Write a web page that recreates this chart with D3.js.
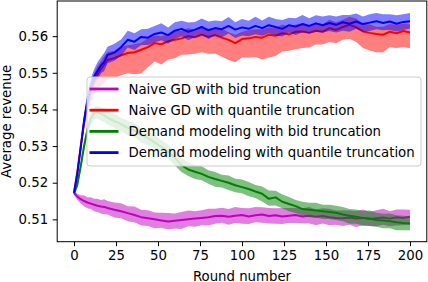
<!DOCTYPE html>
<html lang="en">
<head>
<meta charset="UTF-8">
<title>Average revenue</title>
<script src="https://cdnjs.cloudflare.com/ajax/libs/d3/7.8.5/d3.min.js"></script>
<style>
    body { margin: 0; background: #fff; }
    svg text { font-family: "DejaVu Sans", sans-serif; fill: #000; }
</style>
</head>
<body>
<svg id="chart" width="428" height="282"></svg>
<script>
// rounds
var rounds = [0, 2, 4, 6, 8, 10, 12, 14, 16, 18, 20, 24, 28, 32, 36, 40, 44, 48, 52, 56,
    60, 64, 68, 72, 76, 80, 84, 88, 92, 96, 100, 104, 108, 112, 116, 120, 124, 128, 132, 136,
    140, 144, 148, 152, 156, 160, 164, 168, 172, 176, 180, 184, 188, 192, 196, 200];

var seriesNames = ["Naive GD with bid truncation", "Naive GD with quantile truncation",
    "Demand modeling with bid truncation", "Demand modeling with quantile truncation"];
var seriesColors = ["#bf00bf", "#ff0000", "#008000", "#0000ff"];

// mean revenue
var naiveBid = [0.5172, 0.5162, 0.5155, 0.5150, 0.5146, 0.5143, 0.5140, 0.5137, 0.5135, 0.5134,
    0.5131, 0.5126, 0.5122, 0.5117, 0.5112, 0.5106, 0.5103, 0.5100, 0.5097, 0.5094,
    0.5096, 0.5098, 0.5100, 0.5102, 0.5104, 0.5106, 0.5109, 0.5110, 0.5107, 0.5110,
    0.5112, 0.5108, 0.5111, 0.5113, 0.5109, 0.5111, 0.5108, 0.5110, 0.5112, 0.5108,
    0.5110, 0.5107, 0.5109, 0.5106, 0.5104, 0.5103, 0.5105, 0.5102, 0.5104, 0.5101,
    0.5103, 0.5105, 0.5102, 0.5106, 0.5104, 0.5107];
var naiveQuant = [0.5172, 0.5230, 0.5300, 0.5365, 0.5415, 0.5450, 0.5478, 0.5495, 0.5510, 0.5522,
    0.5535, 0.5540, 0.5548, 0.5554, 0.5556, 0.5563, 0.5570, 0.5581, 0.5578, 0.5586,
    0.5590, 0.5594, 0.5600, 0.5597, 0.5604, 0.5598, 0.5603, 0.5596, 0.5590, 0.5581,
    0.5592, 0.5594, 0.5598, 0.5596, 0.5604, 0.5601, 0.5608, 0.5605, 0.5612, 0.5613,
    0.5609, 0.5615, 0.5612, 0.5622, 0.5617, 0.5625, 0.5631, 0.5624, 0.5613, 0.5609,
    0.5606, 0.5604, 0.5612, 0.5608, 0.5614, 0.5610];
var demandBid = [0.5170, 0.5195, 0.5245, 0.5300, 0.5345, 0.5375, 0.5390, 0.5392, 0.5388, 0.5384,
    0.5378, 0.5368, 0.5360, 0.5350, 0.5342, 0.5330, 0.5322, 0.5310, 0.5298, 0.5285,
    0.5268, 0.5248, 0.5236, 0.5230, 0.5224, 0.5216, 0.5210, 0.5205, 0.5200, 0.5193,
    0.5188, 0.5183, 0.5176, 0.5170, 0.5156, 0.5160, 0.5148, 0.5142, 0.5136, 0.5128,
    0.5126, 0.5124, 0.5122, 0.5120, 0.5118, 0.5113, 0.5110, 0.5107, 0.5104, 0.5102,
    0.5098, 0.5097, 0.5095, 0.5092, 0.5090, 0.5089];
var demandQuant = [0.5172, 0.5225, 0.5295, 0.5370, 0.5425, 0.5462, 0.5490, 0.5505, 0.5520, 0.5530,
    0.5549, 0.5555, 0.5570, 0.5590, 0.5585, 0.5598, 0.5596, 0.5606, 0.5610, 0.5603,
    0.5615, 0.5620, 0.5612, 0.5618, 0.5625, 0.5616, 0.5622, 0.5619, 0.5628, 0.5618,
    0.5624, 0.5620, 0.5628, 0.5622, 0.5630, 0.5625, 0.5620, 0.5630, 0.5626, 0.5633,
    0.5628, 0.5635, 0.5630, 0.5636, 0.5631, 0.5638, 0.5634, 0.5640, 0.5633, 0.5637,
    0.5641, 0.5636, 0.5640, 0.5634, 0.5639, 0.5641];

// band spread below / above the mean, in units of 0.001
var naiveBidDn = [0.5, 0.9, 1.2, 1.4, 1.6, 1.5, 1.8, 1.7, 1.9, 2.0, 1.8, 2.1, 1.9, 2.2, 2.0, 2.3, 2.1, 2.4, 2.0, 2.2,
    2.1, 2.4, 1.9, 2.2, 2.0, 2.3, 2.1, 1.9, 2.2, 2.0, 2.4, 2.1, 1.9, 2.2, 2.0, 2.3, 2.1, 2.0, 2.2, 1.9,
    2.1, 2.3, 2.0, 2.2, 1.9, 2.1, 2.0, 2.3, 2.1, 1.9, 2.2, 2.0, 2.1, 2.3, 2.0, 2.2];
var naiveBidUp = [0.5, 0.8, 1.1, 1.5, 1.4, 1.7, 1.6, 1.9, 1.8, 2.1, 1.9, 2.0, 2.2, 1.9, 2.3, 2.0, 2.2, 1.9, 2.1, 2.3,
    2.0, 2.2, 2.4, 2.0, 2.1, 2.3, 2.0, 2.2, 2.1, 2.4, 1.9, 2.2, 2.3, 2.0, 2.2, 1.9, 2.3, 2.1, 2.0, 2.2,
    2.4, 2.0, 2.1, 2.3, 2.0, 2.2, 1.9, 2.1, 2.3, 2.0, 2.2, 2.4, 2.0, 2.1, 2.3, 1.9];
var naiveQuantDn = [0.5, 1.0, 1.5, 2.0, 2.5, 3.0, 3.5, 4.0, 4.5, 5.0, 5.0, 5.5, 5.5, 5.5, 6.0, 6.5, 5.5, 5.0, 5.5, 5.0,
    5.0, 4.5, 5.0, 4.5, 4.8, 4.6, 5.0, 5.2, 5.5, 5.2, 5.0, 5.2, 5.5, 6.0, 6.2, 5.5, 5.0, 4.5, 4.8, 4.5,
    4.0, 3.8, 3.5, 3.8, 3.6, 3.5, 3.8, 4.0, 4.5, 4.8, 5.0, 4.8, 4.2, 4.0, 4.4, 4.2];
var naiveQuantUp = [0.5, 1.0, 1.4, 1.8, 2.0, 2.2, 2.0, 2.3, 2.1, 2.4, 2.2, 2.0, 2.3, 2.1, 2.2, 2.0, 2.4, 2.1, 2.2, 2.0,
    2.3, 2.1, 2.2, 2.0, 2.3, 2.2, 2.0, 2.4, 2.1, 2.3, 2.0, 2.2, 2.1, 2.3, 2.0, 2.2, 2.4, 2.1, 2.0, 2.3,
    2.1, 2.2, 2.0, 2.3, 2.1, 2.0, 2.2, 2.4, 2.1, 2.3, 2.0, 2.2, 2.1, 2.3, 2.0, 2.2];
var demandBidDn = [0.5, 0.9, 1.2, 1.4, 1.5, 1.6, 1.8, 1.7, 1.9, 1.8, 2.0, 1.8, 1.9, 2.1, 1.8, 2.0, 1.9, 1.7, 2.0, 1.8,
    2.1, 1.9, 1.8, 2.0, 1.7, 1.9, 2.1, 1.8, 2.0, 1.9, 1.7, 2.0, 1.8, 2.1, 1.9, 2.2, 1.8, 2.0, 1.9, 1.7,
    2.0, 1.8, 2.1, 1.9, 2.0, 1.8, 2.2, 1.9, 2.1, 2.0, 1.8, 2.1, 1.9, 2.2, 2.0, 1.9];
var demandBidUp = [0.5, 0.8, 1.1, 1.3, 1.5, 1.7, 1.6, 1.8, 1.7, 1.9, 1.8, 2.0, 1.7, 1.9, 2.0, 1.8, 1.7, 2.0, 1.8, 1.9,
    1.7, 2.0, 1.9, 1.8, 2.1, 1.8, 1.9, 1.7, 2.0, 1.8, 2.1, 1.9, 1.8, 2.0, 2.3, 1.8, 2.0, 1.9, 1.7, 2.0,
    1.9, 2.1, 1.8, 2.0, 1.9, 2.1, 1.8, 2.0, 1.9, 2.2, 2.0, 1.8, 2.1, 1.9, 2.0, 1.8];
var demandQuantDn = [0.5, 1.0, 1.4, 1.7, 2.0, 2.2, 2.1, 2.4, 2.2, 2.5, 2.3, 2.2, 2.4, 2.1, 2.3, 2.2, 2.0, 2.3, 2.1, 2.4,
    2.2, 2.0, 2.3, 2.1, 2.2, 2.4, 2.0, 2.2, 2.1, 2.3, 2.2, 2.0, 2.3, 2.1, 2.2, 2.4, 2.1, 2.0, 2.3, 2.2,
    2.1, 2.3, 2.0, 2.2, 2.1, 2.3, 2.2, 2.0, 2.1, 2.3, 2.2, 2.0, 2.3, 2.1, 2.2, 2.0];
var demandQuantUp = [0.5, 1.0, 1.5, 1.8, 2.1, 2.3, 2.0, 2.4, 2.2, 2.5, 2.2, 2.4, 2.1, 2.5, 2.3, 2.1, 2.4, 2.2, 2.5, 2.1,
    2.3, 2.2, 2.5, 2.1, 2.3, 2.4, 2.1, 2.2, 2.4, 2.0, 2.3, 2.2, 2.5, 2.1, 2.3, 2.2, 2.4, 2.0, 2.3, 2.5,
    2.1, 2.2, 2.4, 2.1, 2.3, 2.0, 2.4, 2.2, 2.1, 2.3, 2.2, 2.4, 2.0, 2.3, 2.1, 2.2];

var xTicks = [0, 25, 50, 75, 100, 125, 150, 175, 200];
var yTicks = [0.51, 0.52, 0.53, 0.54, 0.55, 0.56];
var xLimits = [-10, 210];
var yLimits = [0.5039, 0.5696];

var FONT = "13.3px";
var svg = d3.select("#chart");
var margin = {top: 1, right: 1.2, bottom: 40.3, left: 57.2};
var W = +svg.attr("width");
var H = +svg.attr("height");

var x = d3.scaleLinear().domain(xLimits).range([margin.left, W - margin.right]);
var y = d3.scaleLinear().domain(yLimits).range([H - margin.bottom, margin.top]);

var series = [
    {mean: naiveBid, dn: naiveBidDn, up: naiveBidUp},
    {mean: naiveQuant, dn: naiveQuantDn, up: naiveQuantUp},
    {mean: demandBid, dn: demandBidDn, up: demandBidUp},
    {mean: demandQuant, dn: demandQuantDn, up: demandQuantUp}
];

var plot = svg.append("g");
plot.append("clipPath").attr("id", "clip")
    .append("rect")
    .attr("x", x(xLimits[0])).attr("y", y(yLimits[1]))
    .attr("width", x(xLimits[1]) - x(xLimits[0]))
    .attr("height", y(yLimits[0]) - y(yLimits[1]));

var area = d3.area()
    .x(function (d) { return x(d.r); })
    .y0(function (d) { return y(d.lo); })
    .y1(function (d) { return y(d.hi); });
var line = d3.line()
    .x(function (d) { return x(d.r); })
    .y(function (d) { return y(d.m); });

series.forEach(function (s, k) {
    var pts = rounds.map(function (r, i) {
        return {r: r, m: s.mean[i], lo: s.mean[i] - s.dn[i] / 1000, hi: s.mean[i] + s.up[i] / 1000};
    });
    var g = plot.append("g").attr("clip-path", "url(#clip)");
    g.append("path").datum(pts)
        .attr("d", area)
        .attr("fill", seriesColors[k])
        .attr("fill-opacity", 0.5);
    g.append("path").datum(pts)
        .attr("d", line)
        .attr("fill", "none")
        .attr("stroke", seriesColors[k])
        .attr("stroke-width", 2)
        .attr("stroke-linejoin", "round");
});

// axes
var xAxis = svg.append("g")
    .attr("transform", "translate(0," + y(yLimits[0]) + ")")
    .call(d3.axisBottom(x).tickValues(xTicks).tickSize(4.5).tickPadding(4.5));
var yAxis = svg.append("g")
    .attr("transform", "translate(" + x(xLimits[0]) + ",0)")
    .call(d3.axisLeft(y).tickValues(yTicks).tickFormat(d3.format(".2f")).tickSize(4.5).tickPadding(4.5));
[xAxis, yAxis].forEach(function (a) {
    a.select(".domain").remove();
    a.selectAll("line").attr("stroke", "#000").attr("stroke-width", 1);
    a.selectAll("text").attr("font-size", FONT).attr("font-family", "DejaVu Sans");
});

svg.append("rect")
    .attr("x", x(xLimits[0])).attr("y", y(yLimits[1]))
    .attr("width", x(xLimits[1]) - x(xLimits[0]))
    .attr("height", y(yLimits[0]) - y(yLimits[1]))
    .attr("fill", "none").attr("stroke", "#000").attr("stroke-width", 1);

svg.append("text")
    .attr("x", (x(xLimits[0]) + x(xLimits[1])) / 2)
    .attr("y", 280.5)
    .attr("text-anchor", "middle")
    .attr("font-size", FONT)
    .text("Round number");
svg.append("text")
    .attr("transform", "translate(10.5," + (y(yLimits[0]) + y(yLimits[1])) / 2 + ") rotate(-90)")
    .attr("text-anchor", "middle")
    .attr("font-size", FONT)
    .text("Average revenue");

// legend
var legend = svg.append("g").attr("transform", "translate(87,77)");
legend.append("rect")
    .attr("width", 334).attr("height", 89)
    .attr("rx", 3)
    .attr("fill", "#fff").attr("fill-opacity", 0.8)
    .attr("stroke", "#ccc").attr("stroke-width", 1);
seriesNames.forEach(function (name, i) {
    var ly = 12 + i * 21.2;
    legend.append("line")
        .attr("x1", 2.5).attr("x2", 31.5)
        .attr("y1", ly).attr("y2", ly)
        .attr("stroke", seriesColors[i]).attr("stroke-width", 2.8);
    legend.append("text")
        .attr("x", 41.5).attr("y", ly + 4.8)
        .attr("font-size", FONT)
        .text(name);
});
</script>
</body>
</html>
